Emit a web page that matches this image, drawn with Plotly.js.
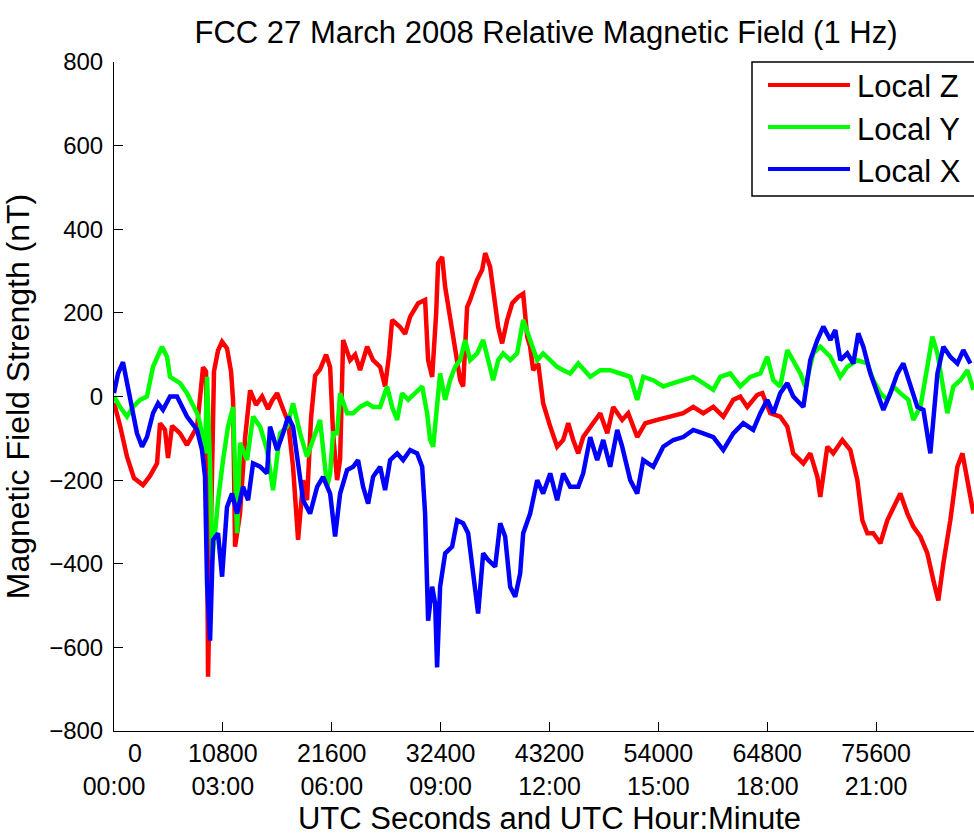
<!DOCTYPE html>
<html>
<head>
<meta charset="utf-8">
<script src="https://cdn.plot.ly/plotly-3.0.1.min.js"></script>
<style>
html, body { margin: 0; padding: 0; overflow: hidden; background: #fff; }
#chart { width: 1000px; height: 840px; }
</style>
</head>
<body>
<div id="chart"></div>
<script>
// ---- Data (UTC seconds, nT) ----
const timeZ = [0,600,1290,1980,2880,3570,4270,4570,5060,5360,5760,6550,7240,7740,8240,8630,8830,9130,9330,9630,9920,10320,10720,11210,11610,11810,12010,12500,13000,13500,14090,14690,15280,15680,16180,16770,17270,17760,18260,18760,19150,19550,19950,20440,21040,21440,21730,22130,22430,22730,23120,23420,23920,24410,25110,25700,26400,26890,27290,27590,28380,28880,29380,30170,30860,31160,31560,31960,32150,32550,32850,33340,33840,34340,34630,35030,35330,36020,36520,36820,37310,37810,38110,38500,39000,39500,40090,40590,40990,41280,41580,42080,42570,43270,43960,44560,45060,45550,46050,46540,47040,47540,48230,48930,49520,50410,51010,51900,52700,53890,55180,56470,57460,58450,59450,60440,61430,62120,62820,63810,64310,65100,66090,66790,67380,68380,69070,69770,70060,70760,71350,72250,73040,73740,74230,74730,75320,76020,76710,77310,78000,78700,79290,79990,80680,81280,81770,82270,82960,83660,84160,84650,85250];
const localZ = [-15,-70,-144,-195,-212,-190,-160,-64,-80,-147,-70,-88,-116,-95,-72,20,70,60,-670,-300,60,110,131,115,60,-8,-359,-280,-100,15,-20,0,-30,-10,8,-30,-60,-168,-343,-200,-248,-50,50,65,100,70,-88,-200,-150,135,110,87,100,63,119,87,71,24,100,183,166,150,191,223,231,87,47,200,319,334,262,183,119,39,24,214,231,279,303,343,310,231,166,127,183,223,238,246,143,119,63,79,-16,-72,-120,-104,-64,-104,-136,-97,-80,-64,-40,-88,-25,-56,-40,-97,-64,-56,-48,-40,-25,-40,-25,-48,-8,0,-25,4,8,-40,-48,-72,-136,-160,-136,-192,-240,-120,-136,-104,-128,-200,-296,-327,-327,-351,-296,-264,-232,-280,-311,-335,-375,-440,-488,-399,-296,-168,-136,-200,-280];

const timeY = [0,600,1290,1890,2580,3270,3870,4370,4760,5260,5560,6550,7240,8240,8530,9030,9230,9530,9730,10020,10320,10820,11310,11810,12210,12500,13200,13790,14490,15180,15780,16470,17170,17760,18460,19150,19750,20440,21140,21440,21730,22130,22430,23120,23720,24410,25110,25700,26400,27090,27590,28090,28580,29180,29870,30570,31060,31360,31660,32050,32350,32850,33340,33840,34340,34830,35330,36020,36620,37120,37610,38110,38600,39300,39990,40590,41280,41980,42570,43270,43960,44560,45250,46050,47240,48230,49220,50220,51210,51900,52500,53490,54480,55480,56470,57460,58450,59450,60140,61130,62120,63120,64110,64800,65400,66090,66790,67380,68080,68570,69370,70060,71060,72050,72740,73740,74730,75320,76020,76710,77310,78000,78800,79290,79990,80680,81180,81680,82170,82670,83260,83960,84650,85250];
const localY = [0,-25,-48,-25,-8,0,71,100,119,95,47,32,8,-40,-64,-136,47,-168,-391,-327,-248,-152,-72,-25,-327,-111,-152,-48,-72,-128,-224,-88,-72,-16,-88,-144,-104,-56,-216,-184,-88,-88,8,-40,-40,-25,-16,-25,-25,24,-25,-56,8,-8,8,24,-40,-104,-120,-25,55,-8,39,71,87,135,87,103,135,87,39,87,103,87,103,183,135,87,103,87,71,63,55,79,47,63,63,55,47,-8,47,39,24,32,39,47,32,16,47,55,24,47,55,95,39,24,111,87,55,24,103,119,95,47,71,87,79,39,8,-8,24,8,-8,-56,-25,71,143,103,24,-40,24,39,63,16];

const timeX = [0,400,890,1290,1790,2280,2780,3270,3870,4370,4860,5560,6250,7240,8240,8730,9030,9230,9530,9820,10320,10720,11210,11710,12210,12800,13300,13790,14490,15180,15480,16180,16770,17270,17760,18260,18760,19450,20150,20740,21440,21930,22430,23120,23720,24210,24710,25210,25700,26400,26890,27390,28090,28680,29380,30070,30570,30860,31160,31560,31860,32050,32350,32850,33540,34040,34630,35130,35630,36120,36620,37120,37810,38310,38800,39300,39800,40290,40590,41280,41980,42570,43270,43960,44560,45250,46050,46540,47240,47930,48530,49220,49920,50410,51210,51900,52500,53490,54480,55480,56470,57460,58450,59450,60440,61430,62420,63410,64110,64800,65400,66090,66790,67380,68380,69070,69770,70360,71060,71550,72050,72740,73340,73830,74330,75030,75720,76320,77010,77710,78300,78990,79690,80290,80980,81680,82270,82960,83660,84250,84950];
const localX = [8,55,82,32,-40,-88,-120,-97,-40,-16,-32,0,0,-48,-80,-128,-192,-447,-584,-343,-327,-431,-264,-232,-280,-216,-248,-160,-168,-184,-72,-128,-88,-48,-72,-168,-248,-280,-216,-192,-232,-335,-232,-176,-168,-152,-216,-256,-192,-168,-224,-152,-136,-152,-128,-136,-168,-280,-536,-455,-495,-648,-455,-375,-359,-296,-303,-327,-415,-519,-375,-391,-407,-303,-335,-455,-479,-423,-327,-280,-200,-232,-184,-248,-184,-216,-216,-184,-97,-152,-104,-168,-80,-120,-200,-232,-152,-168,-120,-104,-97,-80,-88,-97,-128,-88,-64,-80,-40,-8,-40,8,32,0,-25,87,135,167,135,159,87,103,79,151,119,55,8,-32,8,55,79,24,-25,-32,-136,55,119,95,79,111,79];

const tickSeconds = [0,10800,21600,32400,43200,54000,64800,75600];
const tickHours = ['00:00','03:00','06:00','09:00','12:00','15:00','18:00','21:00'];
const yTicks = [-800,-600,-400,-200,0,200,400,600,800];
const seriesNames = ['Local Z','Local Y','Local X'];
const seriesColors = ['#ff0000','#00ff00','#0000ff'];

// ---- Layout geometry ----
const W = 1000, H = 840;
const M = {l: 114, r: 15, t: 62, b: 109};
const pw = W - M.l - M.r, ph = H - M.t - M.b;
const px = x => (x - M.l) / pw;
const py = y => (H - M.b - y) / ph;

const FONT = '"Liberation Sans", Arial, Helvetica, sans-serif';

const traces = [
  {x: timeZ, y: localZ, name: seriesNames[0]},
  {x: timeY, y: localY, name: seriesNames[1]},
  {x: timeX, y: localX, name: seriesNames[2]}
].map((t, i) => Object.assign(t, {
  type: 'scatter', mode: 'lines',
  line: {color: seriesColors[i], width: 4.5},
  hoverinfo: 'skip'
}));

const tickText = tickSeconds.map((s, i) => (i === 0 ? '\u00a0\u00a0\u00a0\u00a0\u00a0\u00a00' : String(s)) + '<br>' + tickHours[i]);

const legendRows = [85, 127, 169];
const legendTextRows = [87, 129, 171];
const shapes = [{
  type: 'rect', xref: 'paper', yref: 'paper',
  x0: px(752), x1: px(1010), y0: py(196), y1: py(62),
  line: {color: '#000', width: 1.5}, fillcolor: '#fff', layer: 'above'
}];
const annotations = [];
seriesNames.forEach((n, i) => {
  shapes.push({
    type: 'line', xref: 'paper', yref: 'paper',
    x0: px(768), x1: px(850), y0: py(legendRows[i]), y1: py(legendRows[i]),
    line: {color: seriesColors[i], width: 4}, layer: 'above'
  });
  annotations.push({
    xref: 'paper', yref: 'paper', x: px(855), y: py(legendTextRows[i]),
    xanchor: 'left', yanchor: 'middle', showarrow: false, text: n,
    font: {family: FONT, size: 31, color: '#000'}
  });
});

const layout = {
  width: W, height: H,
  margin: M,
  paper_bgcolor: '#fff', plot_bgcolor: '#fff',
  showlegend: false,
  font: {family: FONT, color: '#000'},
  title: {
    text: 'FCC 27 March 2008 Relative Magnetic Field (1 Hz)',
    font: {family: FONT, size: 31, color: '#000'},
    x: px(546), xref: 'paper', xanchor: 'center',
    y: 1 - 32 / H, yref: 'container', yanchor: 'middle'
  },
  xaxis: {
    range: [0, 86400],
    tickvals: tickSeconds, ticktext: tickText,
    ticks: 'inside', ticklen: 9, tickwidth: 1, tickcolor: '#000',
    showline: true, linecolor: '#000', linewidth: 1, mirror: false,
    showgrid: false, zeroline: false,
    tickfont: {family: FONT, size: 25, color: '#000'},
    ticklabelstandoff: 0,
    title: {text: 'UTC Seconds and UTC Hour:Minute', font: {family: FONT, size: 31, color: '#000'}, standoff: 8}
  },
  yaxis: {
    range: [-800, 800],
    tickvals: yTicks,
    ticks: 'inside', ticklen: 9, tickwidth: 1, tickcolor: '#000',
    showline: true, linecolor: '#000', linewidth: 1, mirror: false,
    showgrid: false, zeroline: false,
    tickfont: {family: FONT, size: 24, color: '#000'},
    ticklabelstandoff: 5,
    title: {text: 'Magnetic Field Strength (nT)', font: {family: FONT, size: 32, color: '#000'}, standoff: 14}
  },
  shapes: shapes,
  annotations: annotations
};

Plotly.newPlot('chart', traces, layout, {displayModeBar: false, staticPlot: true});
</script>
</body>
</html>
